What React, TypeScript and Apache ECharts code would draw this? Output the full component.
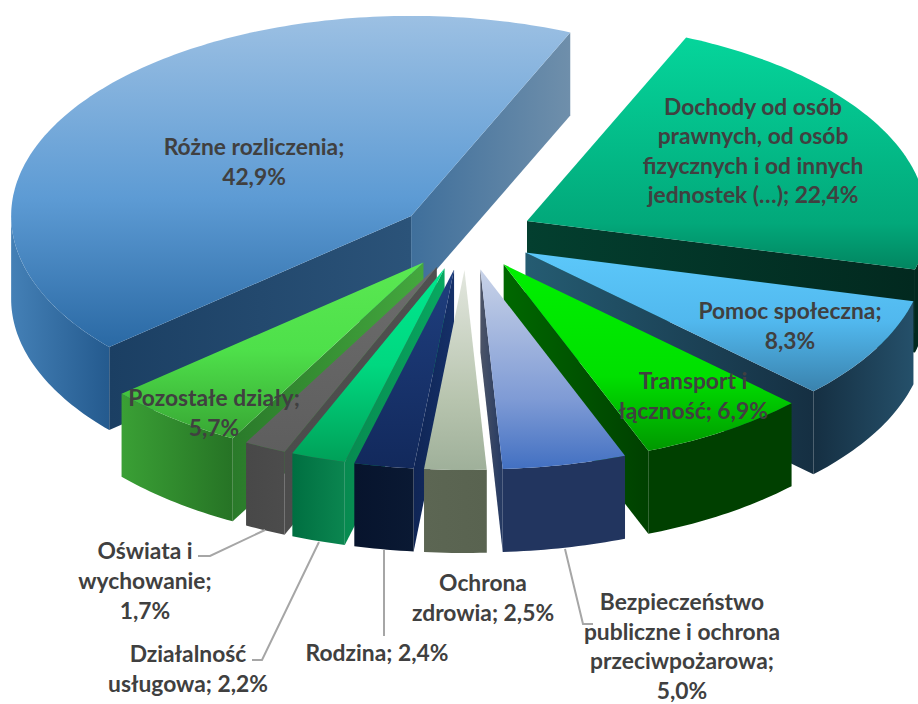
import React, { useEffect, useRef } from "react";
import * as echarts from "echarts";

const categories = [
  "Różne rozliczenia",
  "Dochody od osób\nprawnych, od osób\nfizycznych i od innych\njednostek (…)",
  "Pomoc społeczna",
  "Transport i\nłączność",
  "Bezpieczeństwo\npubliczne i ochrona\nprzeciwpożarowa",
  "Ochrona\nzdrowia",
  "Rodzina",
  "Działalność\nusługowa",
  "Oświata i\nwychowanie",
  "Pozostałe działy",
];
const values = [42.9, 22.4, 8.3, 6.9, 5.0, 2.5, 2.4, 2.2, 1.7, 5.7];
const valueOnNewLine = [true, false, true, false, true, false, false, false, true, true];

// Far slices first, near slices last.
const paintOrder = [0, 1, 2, 3, 9, 8, 7, 6, 4, 5];

const FONT = "Lato, 'Noto Sans', sans-serif";
const START = 229;
const CX = 466;
const CY = 236;
const RX = 400;
const RY = 200;
const EXPLODE = 0.17;
const DEPTH = 83;
const LINE_STEP = 29.6;

type Look = { top: [number, string][]; wallStart?: string[]; wallEnd?: string[]; rim: string[] };
const looks: Look[] = [
  { top: [[0, "#9cc0e3"], [0.55, "#5d9bd4"], [1, "#2a69a4"]], wallStart: ["#1b3f63", "#2b5379"], wallEnd: ["#3f6f9b", "#6f8fab"], rim: ["#4480b6", "#245a8e"] },
  { top: [[0, "#05d59b"], [0.8, "#02a87a"], [1, "#028560"]], wallEnd: ["#033f2f", "#02291f"], rim: ["#02291f", "#02291f"] },
  { top: [[0, "#5cc8fa"], [0.5, "#51b8ee"], [1, "#3a82ad"]], wallEnd: ["#255c72", "#152f42"], rim: ["#152f42", "#25506a"] },
  { top: [[0, "#00f000"], [0.6, "#00e000"], [1, "#009800"]], wallEnd: ["#006800", "#004000"], rim: ["#004000", "#004000"] },
  { top: [[0, "#c9d3e8"], [0.65, "#7f9bd5"], [1, "#4270c2"]], wallEnd: ["#4d5568", "#233862"], rim: ["#22355f", "#22355f"] },
  { top: [[0, "#e3e7df"], [0.65, "#b7c4ae"], [1, "#9fb09a"]], rim: ["#5c6653", "#596350"] },
  { top: [[0, "#1f3f7f"], [1, "#12295c"]], wallStart: ["#0f2555", "#153068"], rim: ["#07142d", "#0a1933"] },
  { top: [[0, "#00e88e"], [0.5, "#00d880"], [1, "#00a058"]], wallStart: ["#078a50", "#08a860"], rim: ["#006f41", "#0b8650"] },
  { top: [[0, "#6c6c6c"], [1, "#5e5e5e"]], wallStart: ["#4c4c4c", "#505050"], rim: ["#484848", "#4c4c4c"] },
  { top: [[0, "#5ae852"], [0.5, "#4ee04a"], [1, "#38a634"]], wallStart: ["#2a7a2a", "#44a83e"], rim: ["#3aa035", "#267325"] },
];

// Label anchors: centre of each text block.
const labelAnchors: [number, number][] = [
  [254, 161], [753, 150], [790, 325], [693, 395], [682, 645.5],
  [483, 597], [377, 652], [188, 668], [145, 580], [214, 412],
];
const leaderLines: [number, number][][] = [
  [[198, 556], [210, 556], [265, 530]],
  [[252, 660], [262, 660], [319, 542]],
  [[384, 550], [384, 636]],
  [[565, 549], [583, 624], [593, 624]],
];

const rad = (d: number) => (d * Math.PI) / 180;
const total = values.reduce((a, b) => a + b, 0);
const spans = values.map((v) => (v / total) * 360);

const hGrad = (c: string[]) => ({
  type: "linear", x: 0, y: 0, x2: 1, y2: 0,
  colorStops: [{ offset: 0, color: c[0] }, { offset: 1, color: c[1] }],
});
const vStops = (s: [number, string][]) => ({
  type: "linear", x: 0, y: 0, x2: 0, y2: 1,
  colorStops: s.map(([offset, color]) => ({ offset, color })),
});

function renderSlice(_: unknown, api: any) {
  const i = api.value(0);
  const look = looks[i];
  const before = spans.slice(0, i).reduce((a, b) => a + b, 0);
  const s = START + before;
  const e = s + spans[i];
  const bis = rad((s + e) / 2);
  const ax = CX + EXPLODE * RX * Math.sin(bis);
  const ay = CY - EXPLODE * RY * Math.cos(bis);
  const rim = (d: number): [number, number] => [
    ax + RX * Math.sin(rad(d)),
    ay - RY * Math.cos(rad(d)),
  ];
  const arc = (a: number, b: number) => {
    const n = Math.max(2, Math.ceil((b - a) / 1));
    const pts: [number, number][] = [];
    for (let k = 0; k <= n; k++) pts.push(rim(a + ((b - a) * k) / n));
    return pts;
  };
  const down = (p: [number, number]): [number, number] => [p[0], p[1] + DEPTH];
  const children: any[] = [];
  const radial = (d: number, colors: string[]) => {
    const r = rim(d);
    const a: [number, number] = [ax, ay];
    children.push({
      type: "polygon",
      shape: { points: [a, r, down(r), down(a)] },
      style: { fill: hGrad(colors) },
    });
  };
  if (look.wallStart && Math.sin(rad(s)) < 0) radial(s, look.wallStart);
  if (look.wallEnd && Math.sin(rad(e)) > 0) radial(e, look.wallEnd);
  // Front-facing part of the outer rim: bearings 90..270.
  const windows = [[90, 270], [450, 630]];
  for (const [lo, hi] of windows) {
    const a = Math.max(s, lo);
    const b = Math.min(e, hi);
    if (b > a) {
      const top = arc(a, b);
      children.push({
        type: "polygon",
        shape: { points: [...top, ...top.map(down).reverse()] },
        style: { fill: hGrad(look.rim) },
      });
    }
  }
  children.push({
    type: "polygon",
    shape: { points: [[ax, ay], ...arc(s, e)] },
    style: { fill: vStops(look.top) },
  });
  return { type: "group", children };
}

export default function App() {
  const ref = useRef<HTMLDivElement>(null);
  useEffect(() => {
    const chart = echarts.init(ref.current!, undefined, { renderer: "svg" });
    const labelLines = (i: number) =>
      `${categories[i]};${valueOnNewLine[i] ? "\n" : " "}${values[i].toFixed(1).replace(".", ",")}%`.split("\n");
    chart.setOption({
      animation: false,
      backgroundColor: "#ffffff",
      series: [
        {
          type: "custom",
          coordinateSystem: "none",
          silent: true,
          clip: false,
          renderItem: renderSlice,
          data: paintOrder.map((i) => [i, values[i]]),
        },
      ],
      graphic: [
        ...leaderLines.map((points) => ({
          type: "polyline",
          z: 20,
          shape: { points },
          style: { stroke: "#a6a6a6", lineWidth: 2, fill: "none" },
        })),
        ...categories.flatMap((_, i) => {
          const lines = labelLines(i);
          return lines.map((line, k) => ({
            type: "text",
            z: 30,
            x: labelAnchors[i][0],
            y: labelAnchors[i][1] + (k - (lines.length - 1) / 2) * LINE_STEP,
            style: {
              text: line,
              fontFamily: FONT,
              fontWeight: "bold",
              fontSize: 22.8,
              lineHeight: 22,
              fill: "#404040",
              align: "center",
              verticalAlign: "middle",
            },
          }));
        }),
      ],
    });
    return () => chart.dispose();
  }, []);
  return (
    <div
      ref={ref}
      style={{ position: "absolute", left: 0, top: 0, width: 918, height: 704 }}
    />
  );
}
